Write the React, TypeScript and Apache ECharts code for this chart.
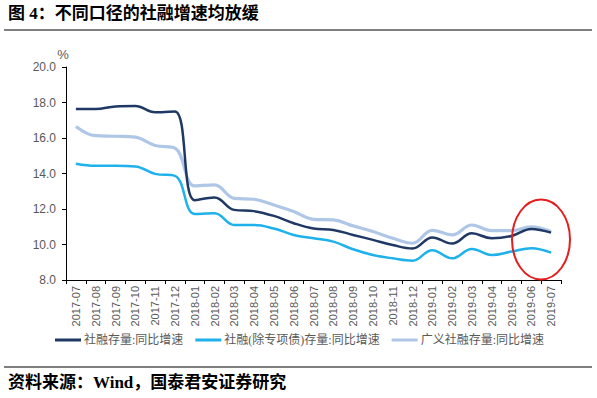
import React, { useEffect, useRef } from "react";
import * as echarts from "echarts";

const months = [
  "2017-07", "2017-08", "2017-09", "2017-10", "2017-11", "2017-12",
  "2018-01", "2018-02", "2018-03", "2018-04", "2018-05", "2018-06",
  "2018-07", "2018-08", "2018-09", "2018-10", "2018-11", "2018-12",
  "2019-01", "2019-02", "2019-03", "2019-04", "2019-05", "2019-06", "2019-07",
];

const tsfStock = [
  17.63, 17.63, 17.78, 17.8, 17.45, 17.5, 12.5, 12.65, 11.95, 11.88, 11.61, 11.2,
  10.9, 10.82, 10.54, 10.26, 9.97, 9.77, 10.4, 10.05, 10.63, 10.35, 10.48, 10.88, 10.67,
];
const tsfExSpecial = [
  14.55, 14.43, 14.43, 14.4, 13.98, 13.87, 11.72, 11.76, 11.1, 11.1, 10.9, 10.54,
  10.35, 10.16, 9.73, 9.41, 9.22, 9.09, 9.68, 9.22, 9.75, 9.41, 9.6, 9.79, 9.54,
];
const tsfBroad = [
  16.65, 16.13, 16.1, 16.05, 15.58, 15.43, 13.3, 13.36, 12.6, 12.55, 12.23, 11.86,
  11.42, 11.39, 11.05, 10.73, 10.35, 10.07, 10.8, 10.54, 11.1, 10.78, 10.78, 11.0, 10.73,
];

const seriesNames = ["社融存量:同比增速", "社融(除专项债)存量:同比增速", "广义社融存量:同比增速"];
const yMin = 8;
const yMax = 20;
const yInterval = 2;

const titleText = "图 4：不同口径的社融增速均放缓";
const sourceText = "资料来源：Wind，国泰君安证券研究";

const serifFont = "'Liberation Serif', 'Noto Sans CJK SC', serif";
const axisFont = "'Liberation Sans', Arial, sans-serif";

export default function App() {
  const ref = useRef<HTMLDivElement>(null);

  useEffect(() => {
    if (!ref.current) return;
    const chart = echarts.init(ref.current, undefined, { renderer: "svg" });
    chart.setOption({
      animation: false,
      backgroundColor: "#ffffff",
      grid: { left: 66, right: 36, top: 67, bottom: 118, containLabel: false },
      legend: {
        data: seriesNames,
        left: 55,
        top: 334,
        padding: 0,
        icon: "rect",
        itemWidth: 26,
        itemHeight: 3,
        itemGap: 12,
        textStyle: { fontSize: 12, color: "#595959", fontFamily: serifFont, padding: [0, 0, 0, -2] },
      },
      xAxis: {
        type: "category",
        data: months,
        boundaryGap: true,
        axisLine: { lineStyle: { color: "#000000", width: 1 } },
        axisTick: { show: true, alignWithLabel: false, length: 4, lineStyle: { color: "#000000" } },
        axisLabel: {
          rotate: 90,
          interval: 0,
          fontSize: 11,
          color: "#595959",
          fontFamily: axisFont,
          margin: 6,
        },
        splitLine: { show: false },
      },
      yAxis: {
        type: "value",
        min: yMin,
        max: yMax,
        interval: yInterval,
        name: "%",
        nameLocation: "end",
        nameGap: 6,
        nameTextStyle: { fontSize: 13, color: "#595959", fontFamily: axisFont, padding: [0, 6, 0, 0] },
        axisLine: { show: true, lineStyle: { color: "#000000", width: 1 } },
        axisTick: { show: true, inside: false, length: 4, lineStyle: { color: "#000000" } },
        axisLabel: {
          formatter: (v: number) => v.toFixed(1),
          fontSize: 12,
          color: "#595959",
          fontFamily: axisFont,
          margin: 10,
        },
        splitLine: { show: false },
      },
      series: [
        {
          name: seriesNames[0],
          type: "line",
          data: tsfStock,
          smooth: 0.4,
          showSymbol: false,
          z: 4,
          lineStyle: { color: "#1F3864", width: 2.5 },
          itemStyle: { color: "#1F3864" },
        },
        {
          name: seriesNames[1],
          type: "line",
          data: tsfExSpecial,
          smooth: 0.4,
          showSymbol: false,
          z: 3,
          lineStyle: { color: "#1EB1EB", width: 2.5 },
          itemStyle: { color: "#1EB1EB" },
        },
        {
          name: seriesNames[2],
          type: "line",
          data: tsfBroad,
          smooth: 0.4,
          showSymbol: false,
          z: 2,
          lineStyle: { color: "#AFC7E6", width: 3.2 },
          itemStyle: { color: "#AFC7E6" },
        },
      ],
      graphic: [
        {
          type: "text",
          left: 8,
          top: 5,
          style: {
            text: titleText,
            fontSize: 17,
            fontWeight: "bold",
            fill: "#000000",
            fontFamily: serifFont,
          },
        },
        {
          type: "line",
          shape: { x1: 4, y1: 30, x2: 592, y2: 30 },
          style: { stroke: "#000000", lineWidth: 1.2 },
        },
        {
          type: "line",
          shape: { x1: 4, y1: 367, x2: 592, y2: 367 },
          style: { stroke: "#000000", lineWidth: 1.2 },
        },
        {
          type: "text",
          left: 8,
          top: 374,
          style: {
            text: sourceText,
            fontSize: 17,
            fontWeight: "bold",
            fill: "#000000",
            fontFamily: serifFont,
          },
        },
        {
          type: "ellipse",
          shape: { cx: 541, cy: 239.5, rx: 29, ry: 40 },
          style: { stroke: "#E41E1E", lineWidth: 2, fill: "none" },
          z: 10,
        },
      ],
    });
    return () => chart.dispose();
  }, []);

  return (
    <div
      ref={ref}
      style={{ position: "fixed", left: 0, top: 0, width: 597, height: 398, background: "#fff" }}
    />
  );
}
